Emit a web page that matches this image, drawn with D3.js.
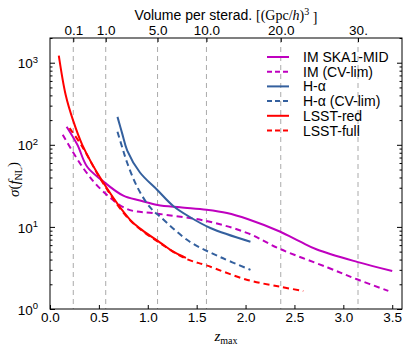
<!DOCTYPE html>
<html>
<head>
<meta charset="utf-8">
<script src="https://cdn.jsdelivr.net/npm/d3@7"></script>
<style>
  body { margin: 0; background: #fff; }
  svg { display: block; }
  .axis text { font-family: "Liberation Sans", Arial, sans-serif; font-size: 13.5px; fill: #000; }
  .axis path, .axis line { stroke: #000; }
  .math { font-family: "Liberation Serif", "DejaVu Serif", serif; }
</style>
</head>
<body>
<div id="chart"></div>
<script>
// ---- data ----
var imSkaZ   = [0.17, 0.28, 0.38, 0.53, 0.75, 0.92, 1.10, 1.33, 1.60, 1.81, 2.02, 2.35, 2.56, 2.73, 3.14, 3.50];
var imSkaSig = [166, 100, 54, 37, 24, 21, 18.5, 17.3, 16.2, 14.8, 12.5, 8.8, 6.6, 5.3, 3.75, 2.9];

var imCvZ    = [0.13, 0.34, 0.53, 0.79, 1.10, 1.60, 2.02, 2.35, 2.84, 3.14, 3.46];
var imCvSig  = [133, 52, 28, 16.5, 14.5, 11.8, 8.4, 5.4, 3.2, 2.3, 1.66];

var haZ      = [0.69, 0.74, 0.79, 0.92, 1.10, 1.26, 1.43, 1.64, 2.05];
var haSig    = [219, 135, 85, 46, 28, 18, 13.2, 9.7, 6.6];

var haCvZ    = [0.69, 0.74, 0.79, 0.89, 1.02, 1.13, 1.43, 1.74, 2.05];
var haCvSig  = [144, 92, 60, 31, 17.5, 13.2, 6.6, 4.3, 3.0];

var lsstRedZ   = [0.09, 0.16, 0.235, 0.33, 0.53, 0.82, 0.94, 1.13, 1.26, 1.39];
var lsstRedSig = [1220, 407, 200, 100, 37, 12.2, 9.2, 6.4, 5.0, 4.2];

var lsstFullZ   = [0.20, 0.33, 0.53, 0.82, 1.13, 1.39, 1.60, 2.02, 2.36, 2.59];
var lsstFullSig = [160, 95, 36, 12, 6.3, 4.1, 3.4, 2.26, 1.86, 1.66];

// top axis: volume per sterad. tick labels and their redshift positions
var volLabels = ["0.1", "1.0", "5.0", "10.0", "20.0", "30."];
var volZ      = [0.238, 0.570, 1.10, 1.60, 2.36, 3.15];

var xTicks = [0.0, 0.5, 1.0, 1.5, 2.0, 2.5, 3.0, 3.5];
var yTicks = [1, 10, 100, 1000];

var magenta = "#bf00bf", blue = "#34609e", red = "#ff0000";

var series = [
  {label: "IM SKA1-MID",   z: imSkaZ,    s: imSkaSig,    color: magenta, dash: null},
  {label: "IM (CV-lim)",   z: imCvZ,     s: imCvSig,     color: magenta, dash: "6,4"},
  {label: "H-α",           z: haZ,       s: haSig,       color: blue,    dash: null},
  {label: "H-α (CV-lim)",  z: haCvZ,     s: haCvSig,     color: blue,    dash: "6,4"},
  {label: "LSST-red",      z: lsstRedZ,  s: lsstRedSig,  color: red,     dash: null},
  {label: "LSST-full",     z: lsstFullZ, s: lsstFullSig, color: red,     dash: "6,4"}
];

var W = 407, H = 348;
var plotL = 50, plotR = 402, plotT = 38, plotB = 309;

var svg = d3.select("#chart").append("svg")
    .attr("width", W)
    .attr("height", H);

var x = d3.scaleLinear().domain([0, 3.6]).range([plotL, plotR]);
var y = d3.scaleLog().domain([1, 2000]).range([plotB, plotT]);

// dashed vertical guides at the volume ticks
svg.append("g").selectAll("line")
    .data(volZ)
    .enter().append("line")
    .attr("x1", function(d) { return x(d); })
    .attr("x2", function(d) { return x(d); })
    .attr("y1", plotT)
    .attr("y2", plotB)
    .attr("stroke", "#aaaaaa")
    .attr("stroke-width", 1)
    .attr("stroke-dasharray", "5,4");

// curves
var line = d3.line()
    .x(function(d) { return x(d[0]); })
    .y(function(d) { return y(d[1]); })
    .curve(d3.curveCatmullRom.alpha(0.5));

svg.append("g").selectAll("path")
    .data(series)
    .enter().append("path")
    .attr("d", function(d) { return line(d3.zip(d.z, d.s)); })
    .attr("fill", "none")
    .attr("stroke", function(d) { return d.color; })
    .attr("stroke-width", 2)
    .attr("stroke-dasharray", function(d) { return d.dash; });

// bottom axis
var xAxis = d3.axisBottom(x)
    .tickValues(xTicks)
    .tickFormat(d3.format(".1f"))
    .tickSizeInner(-4).tickSizeOuter(0).tickPadding(3);
svg.append("g").attr("class", "axis")
    .attr("transform", "translate(0," + plotB + ")")
    .call(xAxis)
    .select(".domain").remove();

// top axis (volume)
var xTop = d3.axisTop(x)
    .tickValues(volZ)
    .tickFormat(function(d, i) { return volLabels[i]; })
    .tickSizeInner(-4).tickSizeOuter(0).tickPadding(3);
svg.append("g").attr("class", "axis")
    .attr("transform", "translate(0," + plotT + ")")
    .call(xTop)
    .select(".domain").remove();

// left / right y axes, major + minor
var minor = y.ticks().filter(function(d) { return yTicks.indexOf(d) < 0; });

function yAxisPair(axisFn, xpos, labels) {
  var gMaj = svg.append("g").attr("class", "axis")
      .attr("transform", "translate(" + xpos + ",0)")
      .call(axisFn(y).tickValues(yTicks).tickFormat("").tickSizeInner(-5).tickSizeOuter(0));
  gMaj.select(".domain").remove();
  svg.append("g").attr("class", "axis")
      .attr("transform", "translate(" + xpos + ",0)")
      .call(axisFn(y).tickValues(minor).tickFormat("").tickSizeInner(-2.5).tickSizeOuter(0))
      .select(".domain").remove();
  if (labels) {
    var t = gMaj.selectAll(".tick").append("text")
        .attr("x", -12)
        .attr("dy", "0.38em")
        .attr("text-anchor", "end")
        .text("10");
    t.append("tspan")
        .attr("dy", "-0.55em")
        .attr("font-size", "9.5px")
        .text(function(d) { return Math.round(Math.log10(d)); });
  }
}
yAxisPair(d3.axisLeft, plotL, true);
yAxisPair(d3.axisRight, plotR, false);

// frame
svg.append("rect")
    .attr("x", plotL).attr("y", plotT)
    .attr("width", plotR - plotL).attr("height", plotB - plotT)
    .attr("fill", "none").attr("stroke", "#000").attr("stroke-width", 1);

// top title
var title = svg.append("text")
    .attr("x", (plotL + plotR) / 2)
    .attr("y", 20)
    .attr("text-anchor", "middle")
    .attr("font-family", "Liberation Sans, Arial, sans-serif")
    .attr("font-size", "14px");
title.append("tspan").text("Volume per sterad. ");
title.append("tspan").attr("class", "math").text("[(Gpc/");
title.append("tspan").attr("class", "math").attr("font-style", "italic").text("h");
title.append("tspan").attr("class", "math").text(")");
title.append("tspan").attr("class", "math").attr("dy", "-0.5em").attr("font-size", "10px").text("3");
title.append("tspan").attr("class", "math").attr("dy", "0.5em").text(" ]");

// x label
var xl = svg.append("text")
    .attr("class", "math")
    .attr("x", (plotL + plotR) / 2)
    .attr("y", 341)
    .attr("text-anchor", "middle")
    .attr("font-size", "15px");
xl.append("tspan").attr("font-style", "italic").text("z");
xl.append("tspan").attr("dy", "0.3em").attr("font-size", "10px").text("max");

// y label
var yl = svg.append("text")
    .attr("class", "math")
    .attr("transform", "translate(19," + ((plotT + plotB) / 2 + 6) + ") rotate(-90)")
    .attr("text-anchor", "middle")
    .attr("font-size", "15px");
yl.append("tspan").attr("font-style", "italic").text("σ");
yl.append("tspan").text("(");
yl.append("tspan").attr("font-style", "italic").text("f");
yl.append("tspan").attr("dy", "0.3em").attr("font-size", "10px").text("NL");
yl.append("tspan").attr("dy", "-0.3em").text(")");

// legend
var leg = svg.append("g").attr("transform", "translate(267,57)");
var rows = leg.selectAll("g")
    .data(series)
    .enter().append("g")
    .attr("transform", function(d, i) { return "translate(0," + (i * 14.7) + ")"; });
rows.append("line")
    .attr("x1", 0).attr("x2", 22)
    .attr("stroke", function(d) { return d.color; })
    .attr("stroke-width", 2)
    .attr("stroke-dasharray", function(d) { return d.dash ? "5,3" : null; });
rows.append("text")
    .attr("x", 36)
    .attr("dy", "0.36em")
    .attr("font-family", "Liberation Sans, Arial, sans-serif")
    .attr("font-size", "14px")
    .text(function(d) { return d.label; });
</script>
</body>
</html>
